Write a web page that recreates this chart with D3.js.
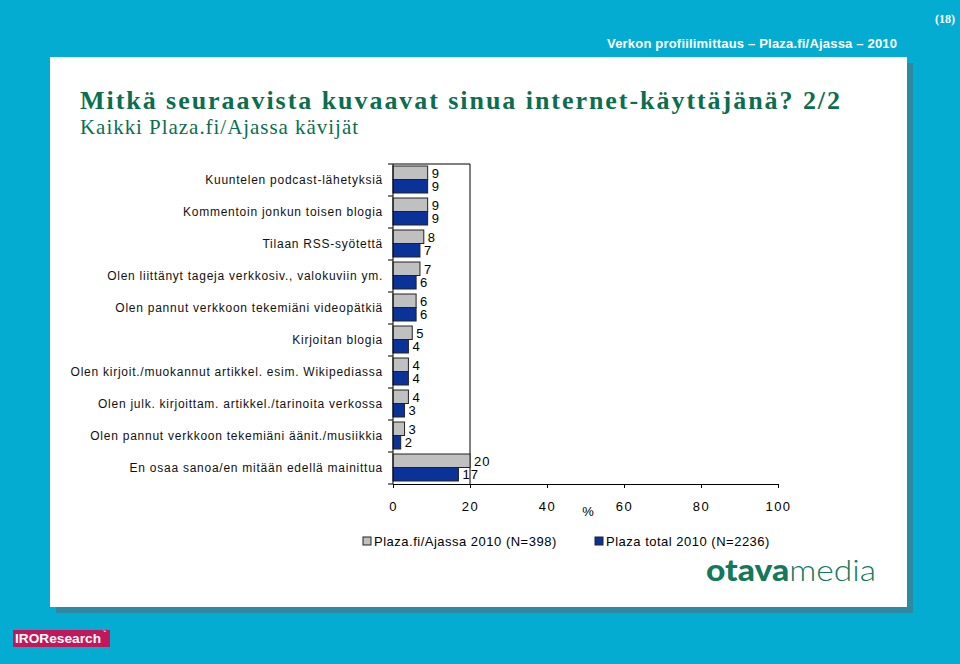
<!DOCTYPE html>
<html><head><meta charset="utf-8">
<script src="https://cdn.jsdelivr.net/npm/d3@7/dist/d3.min.js"></script>
<style>body{margin:0;padding:0;background:#05acd1;}svg{display:block;}</style>
</head><body>
<svg id="c" width="960" height="664"></svg>
<script>
const categories = [
  "Kuuntelen podcast-lähetyksiä",
  "Kommentoin jonkun toisen blogia",
  "Tilaan RSS-syötettä",
  "Olen liittänyt tageja verkkosiv., valokuviin ym.",
  "Olen pannut verkkoon tekemiäni videopätkiä",
  "Kirjoitan blogia",
  "Olen kirjoit./muokannut artikkel. esim. Wikipediassa",
  "Olen julk. kirjoittam. artikkel./tarinoita verkossa",
  "Olen pannut verkkoon tekemiäni äänit./musiikkia",
  "En osaa sanoa/en mitään edellä mainittua"
];
const seriesNames = ["Plaza.fi/Ajassa 2010 (N=398)", "Plaza total 2010 (N=2236)"];
const ajassa = [9, 9, 8, 7, 6, 5, 4, 4, 3, 20];
const total = [9, 9, 7, 6, 6, 4, 4, 3, 2, 17];
const xTicks = [0, 20, 40, 60, 80, 100];
const colors = ["#c0c0c0", "#0a3399"];

const svg = d3.select("#c");
const font = "'Liberation Sans', Arial, sans-serif";

// background + panel
svg.append("rect").attr("width", 960).attr("height", 664).attr("fill", "#05acd1");
svg.append("rect").attr("x", 56).attr("y", 63).attr("width", 857).attr("height", 550).attr("fill", "#2d8aa2");
svg.append("rect").attr("x", 50).attr("y", 57).attr("width", 857).attr("height", 550).attr("fill", "#ffffff");

// header
svg.append("text").attr("x", 955).attr("y", 23).attr("text-anchor", "end")
  .attr("font-family", "'Liberation Serif', serif").attr("font-size", 12).attr("font-weight", "bold")
  .attr("fill", "#ffffff").text("(18)");
svg.append("text").attr("x", 607).attr("y", 48)
  .attr("font-family", font).attr("font-size", 13).attr("font-weight", "bold")
  .attr("fill", "#ffffff").attr("textLength", 290).attr("lengthAdjust", "spacing")
  .text("Verkon profiilimittaus – Plaza.fi/Ajassa – 2010");

// titles
svg.append("text").attr("x", 80).attr("y", 109)
  .attr("font-family", "'Liberation Serif', 'Times New Roman', serif").attr("font-size", 26).attr("font-weight", "bold")
  .attr("fill", "#0b6e4f").attr("textLength", 760).attr("lengthAdjust", "spacing")
  .text("Mitkä seuraavista kuvaavat sinua internet-käyttäjänä? 2/2");
svg.append("text").attr("x", 80).attr("y", 134)
  .attr("font-family", "'Liberation Serif', 'Times New Roman', serif").attr("font-size", 21)
  .attr("fill", "#0b6e4f").attr("textLength", 278).attr("lengthAdjust", "spacing")
  .text("Kaikki Plaza.fi/Ajassa kävijät");

// scales
const x = d3.scaleLinear().domain([0, 100]).range([393, 778]);
const y = d3.scaleBand().domain(categories).range([164, 484]).paddingInner(0).paddingOuter(0);
const ys = d3.scaleBand().domain([0, 1]).range([2, y.bandwidth() - 3]);

// frame lines
const g = svg.append("g");
g.append("line").attr("x1", x(0)).attr("x2", x(20)).attr("y1", 164).attr("y2", 164).attr("stroke", "#000").attr("stroke-width", 1);
g.append("line").attr("x1", x(20)).attr("x2", x(20)).attr("y1", 164).attr("y2", 484).attr("stroke", "#000").attr("stroke-width", 1);

// bars
const rows = categories.map((c, i) => ({c, vals: [ajassa[i], total[i]]}));
const rg = g.selectAll("g.row").data(rows).join("g").attr("transform", d => `translate(0,${y(d.c)})`);
rg.selectAll("rect").data(d => d.vals.map((v, k) => ({v, k}))).join("rect")
  .attr("x", x(0)).attr("y", d => ys(d.k)).attr("width", d => x(d.v) - x(0)).attr("height", ys.bandwidth())
  .attr("fill", d => colors[d.k]).attr("stroke", "#222").attr("stroke-width", 1);
rg.selectAll("text").data(d => d.vals.map((v, k) => ({v, k}))).join("text")
  .attr("x", d => x(d.v) + 4).attr("y", d => ys(d.k) + ys.bandwidth() / 2 + 5)
  .attr("font-family", font).attr("font-size", 13).attr("fill", "#000").attr("letter-spacing", 1)
  .text(d => d.v);

// y axis
g.append("line").attr("x1", x(0)).attr("x2", x(0)).attr("y1", 164).attr("y2", 484).attr("stroke", "#000");
const bounds = categories.map(c => y(c)).concat([y.range()[1]]);
g.selectAll("line.yt").data(bounds).join("line").attr("class", "yt")
  .attr("x1", x(0) - 5).attr("x2", x(0)).attr("y1", d => d).attr("y2", d => d).attr("stroke", "#000");
g.selectAll("text.cat").data(categories).join("text").attr("class", "cat")
  .attr("x", 383).attr("y", d => y(d) + y.bandwidth() / 2 + 4)
  .attr("text-anchor", "end").attr("font-family", font).attr("font-size", 12)
  .attr("letter-spacing", 0.75).attr("fill", "#111").text(d => d);

// x axis
const xa = svg.append("g").attr("transform", "translate(0,484)")
  .call(d3.axisBottom(x).tickValues(xTicks).tickSize(4).tickPadding(14).tickSizeOuter(0));
xa.select(".domain").attr("stroke", "#000");
xa.selectAll(".tick line").attr("stroke", "#000");
xa.selectAll(".tick text").attr("font-family", font).attr("font-size", 13).attr("letter-spacing", 1.5).attr("fill", "#000");
svg.append("text").attr("x", 588).attr("y", 516).attr("text-anchor", "middle")
  .attr("font-family", font).attr("font-size", 13).attr("fill", "#000").text("%");

// legend
const lx = [363, 595];
seriesNames.forEach((n, i) => {
  svg.append("rect").attr("x", lx[i]).attr("y", 537).attr("width", 8).attr("height", 8)
    .attr("fill", colors[i]).attr("stroke", "#222");
  svg.append("text").attr("x", lx[i] + 11).attr("y", 546).attr("font-family", font).attr("font-size", 13)
    .attr("letter-spacing", 0.5).attr("fill", "#000").text(n);
});

// otavamedia logo
const lt = svg.append("text").attr("x", 706).attr("y", 581).attr("font-family", "'Lato', 'Open Sans', sans-serif")
  .attr("font-size", 30).attr("fill", "#13795a").attr("textLength", 170).attr("lengthAdjust", "spacingAndGlyphs");
lt.append("tspan").attr("font-weight", "900").text("otava");
lt.append("tspan").attr("font-weight", "300").text("media");

// IROResearch logo
svg.append("rect").attr("x", 13).attr("y", 630).attr("width", 97).attr("height", 17).attr("fill", "#c2185b");
svg.append("text").attr("x", 15).attr("y", 643).attr("font-family", font).attr("font-size", 12).attr("font-weight", "bold")
  .attr("fill", "#ffffff").attr("textLength", 86).attr("lengthAdjust", "spacingAndGlyphs").text("IROResearch");
svg.append("text").attr("x", 103).attr("y", 638).attr("font-family", font).attr("font-size", 10).attr("font-weight", "bold")
  .attr("fill", "#ffffff").text("`");
</script>
</body></html>
